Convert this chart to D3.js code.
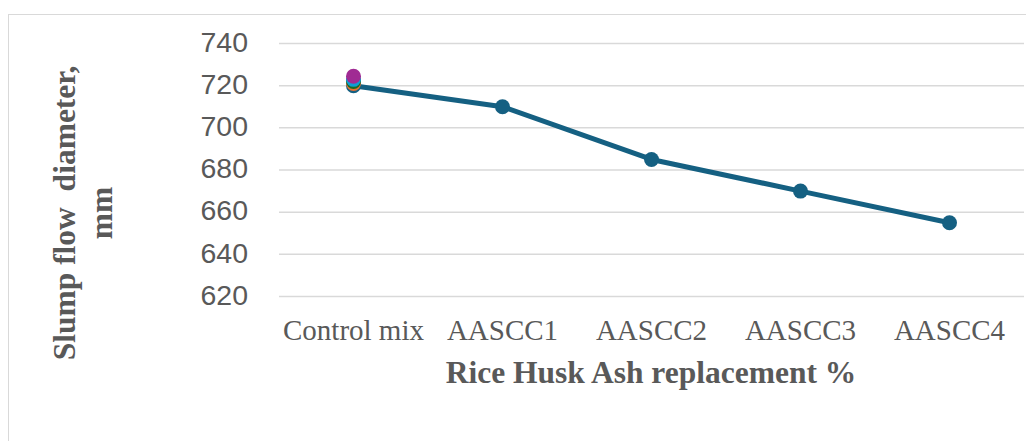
<!DOCTYPE html>
<html><head><meta charset="utf-8">
<script src="https://cdn.jsdelivr.net/npm/d3@7"></script>
<style>body{margin:0;background:#fff}svg{display:block}text{white-space:pre}</style>
</head><body><svg id="c" width="1026" height="441"></svg>
<script>
// ---- data ----
const categories = ["Control mix", "AASCC1", "AASCC2", "AASCC3", "AASCC4"];
const slumpFlow = [720, 710, 685, 670, 655];
// single-point series stacked on the "Control mix" point
const extraSeriesValues = [721, 722, 723, 724.5];
const yTicks = [620, 640, 660, 680, 700, 720, 740];
const xTitle = "Rice Husk Ash replacement %";
const yTitleLines = ["Slump flow  diameter,", "mm"];

// ---- styles ----
const lineColor = "#156082";
const extraColors = ["#E97132", "#196B24", "#0F9ED5", "#A02B93"];
const textColor = "#595959";

const svg = d3.select("#c");
svg.append("rect").attr("x", 8.5).attr("y", 14.5).attr("width", 1040).attr("height", 460)
  .attr("fill", "#fff").attr("stroke", "#d9d9d9").attr("stroke-width", 1);

const x = d3.scaleBand().domain(categories).range([279, 1024]);
const y = d3.scaleLinear().domain([620, 740]).range([296.5, 43.5]);
const cx = d => x(d) + x.bandwidth() / 2;

// gridlines
svg.append("g").selectAll("line").data(yTicks).join("line")
  .attr("x1", 279).attr("x2", 1024)
  .attr("y1", d => y(d)).attr("y2", d => y(d))
  .attr("stroke", "#d9d9d9").attr("stroke-width", 1.5);

// y tick labels
svg.append("g").selectAll("text").data(yTicks).join("text")
  .attr("x", 248).attr("y", d => y(d)).attr("dy", "0.29em")
  .attr("text-anchor", "end")
  .attr("font-family", "'Liberation Sans', Arial, sans-serif")
  .attr("font-size", 28.5).attr("fill", textColor)
  .text(d => d);

// x tick labels
svg.append("g").selectAll("text").data(categories).join("text")
  .attr("x", d => cx(d)).attr("y", 340)
  .attr("text-anchor", "middle")
  .attr("font-family", "'Liberation Serif', 'Times New Roman', serif")
  .attr("font-size", 29).attr("fill", textColor)
  .text(d => d);

// x title
svg.append("text").attr("x", 651).attr("y", 383).attr("text-anchor", "middle")
  .attr("font-family", "'Liberation Serif', 'Times New Roman', serif")
  .attr("font-weight", "bold").attr("font-size", 31.5).attr("fill", textColor)
  .text(xTitle);

// y title
const yTitleX = [75, 112];
yTitleLines.forEach((t, i) => {
  svg.append("text").attr("transform", `translate(${yTitleX[i]},213) rotate(-90)`)
    .attr("text-anchor", "middle")
    .attr("font-family", "'Liberation Serif', 'Times New Roman', serif")
    .attr("font-weight", "bold").attr("font-size", 31.5).attr("fill", textColor)
    .text(t);
});

// line
const data = categories.map((c, i) => ({c, v: slumpFlow[i]}));
svg.append("path").datum(data)
  .attr("fill", "none").attr("stroke", lineColor).attr("stroke-width", 5)
  .attr("stroke-linejoin", "round")
  .attr("d", d3.line().x(d => cx(d.c)).y(d => y(d.v)));
svg.append("g").selectAll("circle").data(data).join("circle")
  .attr("cx", d => cx(d.c)).attr("cy", d => y(d.v)).attr("r", 7.5)
  .attr("fill", lineColor);

// extra single-point series
svg.append("g").selectAll("circle").data(extraSeriesValues).join("circle")
  .attr("cx", cx(categories[0])).attr("cy", d => y(d)).attr("r", 7.5)
  .attr("fill", (d, i) => extraColors[i]);
</script></body></html>
